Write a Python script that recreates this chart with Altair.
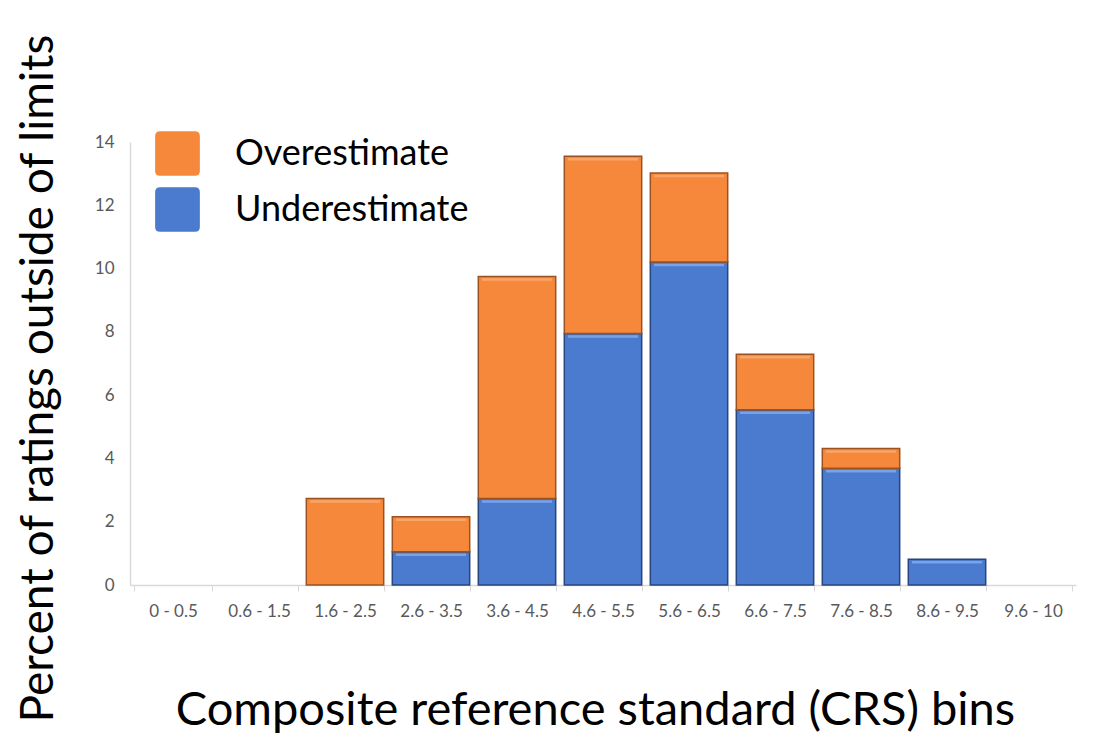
import altair as alt
import pandas as pd

# CRS bins and percent of ratings outside limits, per direction
bins = ["0 - 0.5", "0.6 - 1.5", "1.6 - 2.5", "2.6 - 3.5", "3.6 - 4.5", "4.6 - 5.5",
        "5.6 - 6.5", "6.6 - 7.5", "7.6 - 8.5", "8.6 - 9.5", "9.6 - 10"]
underestimate = [0, 0, 0, 1.05, 2.73, 7.95, 10.21, 5.54, 3.69, 0.81, 0]
overestimate = [0, 0, 2.73, 1.11, 7.02, 5.6, 2.81, 1.75, 0.62, 0, 0]

series = ["Overestimate", "Underestimate"]
fill_colors = ["#F5883B", "#4A7BCF"]
edge_colors = ["#9C5220", "#27467F"]
shine_colors = ["#FBB27A", "#8FB3EE"]

rows = []
for i, b in enumerate(bins):
    rows.append({"bin": b, "kind": "Underestimate", "ord": 0, "value": underestimate[i]})
    rows.append({"bin": b, "kind": "Overestimate", "ord": 1, "value": overestimate[i]})
df = pd.DataFrame(rows)

font = "Lato"
label_color = "#595959"
x_scale = alt.Scale(domain=bins, paddingInner=0.1, paddingOuter=0.05)

x_enc = alt.X(
    "bin:N", sort=bins, scale=x_scale,
    axis=alt.Axis(
        title="Composite reference standard (CRS) bins",
        labelAngle=0, labelFont=font, labelFontSize=17, labelColor=label_color,
        labelPadding=12, tickBand="extent", tickSize=6, tickColor="#D9D9D9",
        domainColor="#D9D9D9", domainWidth=1.5,
        titleFont=font, titleFontSize=47, titleFontWeight="normal", titleColor="#000000",
        titlePadding=68, titleX=465,
    ),
)

base = alt.Chart(df).transform_filter("datum.value > 0").transform_stack(
    stack="value", groupby=["bin"], as_=["y0", "y1"],
    sort=[alt.SortField("ord", order="ascending")],
)

bars = base.mark_bar(strokeWidth=1.5).encode(
    x=x_enc,
    y=alt.Y(
        "y0:Q",
        scale=alt.Scale(domain=[0, 14], nice=False),
        axis=alt.Axis(
            title="Percent of ratings outside of limits",
            values=[0, 2, 4, 6, 8, 10, 12, 14], format="d", grid=False, ticks=False,
            labelFont=font, labelFontSize=17, labelColor=label_color, labelPadding=16,
            domainColor="#D9D9D9", domainWidth=1.5,
            titleFont=font, titleFontSize=46, titleFontWeight="normal", titleColor="#000000",
            titleX=-92, titleY=236, titleAngle=-90, titleAlign="center", titleBaseline="middle",
        ),
    ),
    y2="y1:Q",
    color=alt.Color(
        "kind:N",
        scale=alt.Scale(domain=series, range=fill_colors),
        legend=alt.Legend(
            title=None, orient="none", legendX=24, legendY=-12,
            symbolType="M -0.78 -1 H 0.78 Q 1 -1 1 -0.78 V 0.78 Q 1 1 0.78 1 H -0.78 Q -1 1 -1 0.78 V -0.78 Q -1 -1 -0.78 -1 Z",
            symbolSize=2000, symbolStrokeWidth=1.5, symbolOpacity=1,
            labelFont=font, labelFontSize=36, labelColor="#000000", labelOffset=34,
            rowPadding=10, labelLimit=400,
        ),
    ),
    stroke=alt.Stroke("kind:N", scale=alt.Scale(domain=series, range=edge_colors), legend=None),
)

shine = base.mark_tick(thickness=2.5, size=70, yOffset=3).encode(
    x=alt.X("bin:N", sort=bins, scale=x_scale),
    y=alt.Y("y1:Q"),
    color=alt.Color("kind:N", scale=alt.Scale(domain=series, range=shine_colors), legend=None),
)

chart = alt.layer(bars, shine).resolve_scale(color="independent").properties(
    width=946,
    height=443,
    autosize=alt.AutoSizeParams(type="none"),
    padding={"left": 130, "top": 142, "right": 21, "bottom": 151},
    background="#FFFFFF",
).configure_view(stroke=None)

chart.save("out.html", embed_options={"renderer": "svg", "actions": False})
